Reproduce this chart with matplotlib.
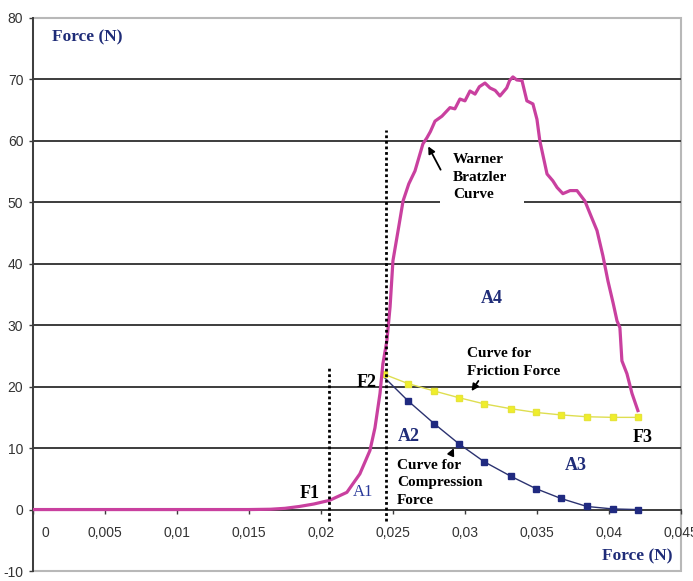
import numpy as np
import matplotlib
matplotlib.use("Agg")
import matplotlib.pyplot as plt
from matplotlib.patches import Rectangle
from matplotlib.transforms import ScaledTranslation

# Warner Bratzler shear curve
wb_x = [0, 0.005, 0.01, 0.015, 0.0165, 0.0175, 0.0185, 0.0195, 0.0206, 0.0218,
        0.0227, 0.0234, 0.02375, 0.0241, 0.0243, 0.02458, 0.0248, 0.025, 0.0254,
        0.0257, 0.0261, 0.02653, 0.02708, 0.02736, 0.0276, 0.02792, 0.0284,
        0.02896, 0.0293, 0.02965, 0.0300, 0.03035, 0.0307, 0.0310, 0.03139,
        0.03174, 0.0321, 0.03243, 0.0329, 0.0331, 0.03333, 0.0336, 0.03396,
        0.0343, 0.03472, 0.0350, 0.0352, 0.0357, 0.0361, 0.0364, 0.0368, 0.0373,
        0.03778, 0.03833, 0.0388, 0.03917, 0.03958, 0.03993, 0.0403, 0.04056,
        0.04076, 0.0409, 0.04125, 0.0416, 0.04201]
wb_y = [0, 0, 0, 0, 0.05, 0.2, 0.5, 0.9, 1.5, 2.8,
        5.8, 9.6, 13.3, 18.9, 23.7, 27.5, 33, 40.5, 46.0,
        50.2, 53.0, 55.1, 59.5, 60.5, 61.5, 63.2, 64.0,
        65.4, 65.2, 66.8, 66.5, 68.1, 67.6, 68.8, 69.4,
        68.6, 68.2, 67.3, 68.6, 69.8, 70.4, 69.9, 69.8,
        66.5, 66.0, 63.5, 60.0, 54.6, 53.5, 52.4, 51.4, 51.9,
        51.9, 50.2, 47.5, 45.4, 41.3, 37.2, 33.5, 30.7,
        29.6, 24.2, 22.1, 18.9, 16.1]

# friction and compression force curves
fc_x = [0.0244, 0.02604, 0.02785, 0.02958, 0.03132, 0.0332, 0.03493, 0.03667,
        0.03847, 0.04028, 0.04201]
friction_y = [22.0, 20.5, 19.3, 18.2, 17.2, 16.4, 15.8, 15.4, 15.1, 15.0, 15.0]
compression_y = [21.5, 17.7, 14.0, 10.7, 7.8, 5.4, 3.4, 1.8, 0.5, 0.1, 0.0]

# limits of the areas
f1_x, f1_top = 0.02056, 23.4
f2_x, f2_top = 0.0245, 61.8

x_ticks = [0, 0.005, 0.01, 0.015, 0.02, 0.025, 0.03, 0.035, 0.04, 0.045]
x_labels = ["0", "0,005", "0,01", "0,015", "0,02", "0,025", "0,03", "0,035", "0,04", "0,045"]
y_ticks = [-10, 0, 10, 20, 30, 40, 50, 60, 70, 80]

navy = "#1f2c78"
magenta = "#c9409f"
serif = ["Liberation Serif", "DejaVu Serif"]
narrow = ["Liberation Sans Narrow", "Liberation Sans", "DejaVu Sans"]

fig = plt.figure(figsize=(6.93, 5.81), dpi=100)
ax = fig.add_axes([0.0476, 0.0172, 0.935, 0.952])
ax.set_xlim(0, 0.045)
ax.set_ylim(-10, 80)

# horizontal gridlines
for y in range(10, 80, 10):
    ax.axhline(y, color="#3c3c3c", lw=1.4, zorder=1)

for s in ["top", "right"]:
    ax.spines[s].set_visible(False)
ax.spines["bottom"].set_position(("data", 0))
ax.spines["bottom"].set_color("#3c3c3c")
ax.spines["bottom"].set_linewidth(1.4)
ax.spines["left"].set_color("#3c3c3c")
ax.spines["left"].set_linewidth(1.4)
ax.add_patch(Rectangle((0, 0), 1, 1, transform=ax.transAxes, fill=False,
                       ec="#b8b8b8", lw=1.5, zorder=0, clip_on=False))

ax.set_xticks(x_ticks)
ax.set_xticklabels(x_labels, family=narrow, fontsize=10, color="#333333")
ax.set_yticks(y_ticks)
ax.set_yticklabels([str(v) for v in y_ticks], family=narrow, fontsize=10, color="#333333")
ax.tick_params(axis="x", direction="out", length=3, width=1, color="#3c3c3c", pad=9)
ax.tick_params(axis="y", direction="out", length=3, width=1, color="#3c3c3c", pad=4)
first = ax.get_xticklabels()[0]
first.set_transform(first.get_transform() + ScaledTranslation(9 / 72, 0, fig.dpi_scale_trans))

# curves
ax.plot(wb_x, wb_y, color=magenta, lw=2.3, zorder=4, solid_joinstyle="round")
ax.plot(fc_x, compression_y, color="#2b3270", lw=1.0, marker="s", ms=5,
        mfc="#202a80", mec="#202a80", markevery=list(range(1, len(fc_x))), zorder=3)
ax.plot(fc_x, friction_y, color="#dede50", lw=1.0, marker="s", ms=5,
        mfc="#f0ee2a", mec="#e6e43a", zorder=3)

# dotted limits
ax.plot([f1_x, f1_x], [-1.8, f1_top], color="black", lw=2, ls=(0, (1, 1)), zorder=5)
ax.plot([f2_x, f2_x], [-1.8, f2_top], color="black", lw=2, ls=(0, (1, 1)), zorder=5)

bold = dict(family=serif, fontweight="bold")
ax.text(0.00375, 76.9, "Force (N)", color=navy, fontsize=12.5, ha="center", va="center", **bold)
ax.text(0.04444, -7.6, "Force (N)", color=navy, fontsize=12.5, ha="right", va="center", **bold)

ax.text(0.01924, 2.6, "F1", color="black", fontsize=13, ha="center", va="center", **bold)
ax.text(0.0232, 20.7, "F2", color="black", fontsize=13, ha="center", va="center", **bold)
ax.text(0.04236, 11.7, "F3", color="black", fontsize=13, ha="center", va="center", **bold)

ax.text(0.02292, 2.8, "A1", color="#2a3a9a", fontsize=12, ha="center", va="center", family=serif)
ax.text(0.02611, 11.9, "A2", color=navy, fontsize=13, ha="center", va="center", **bold)
ax.text(0.03771, 7.2, "A3", color=navy, fontsize=13, ha="center", va="center", **bold)
ax.text(0.03188, 34.3, "A4", color=navy, fontsize=13, ha="center", va="center", **bold)

ax.text(0.02528, 4.4, "Curve for\nCompression\nForce", color="black", fontsize=11,
        ha="left", va="center", linespacing=1.45, zorder=6, **bold)
ax.text(0.03014, 23.9, "Curve for\nFriction Force", color="black", fontsize=11,
        ha="left", va="center", linespacing=1.45, zorder=6, **bold)

# white label box that breaks the 50 gridline
ax.add_patch(Rectangle((0.02826, 49.3), 0.00584, 9.9, fc="white", ec="none", zorder=2))
ax.text(0.02917, 54.1, "Warner\nBratzler\nCurve", color="black", fontsize=11,
        ha="left", va="center", linespacing=1.45, zorder=6, **bold)

arrow = dict(arrowstyle="-|>", color="black", lw=1.3, mutation_scale=10)
ax.annotate("", xy=(0.02736, 59.5), xytext=(0.02840, 54.9), arrowprops=arrow, zorder=6)
ax.annotate("", xy=(0.03035, 18.9), xytext=(0.03104, 21.3), arrowprops=arrow, zorder=6)
ax.annotate("", xy=(0.02931, 10.4), xytext=(0.02896, 8.6), arrowprops=arrow, zorder=6)

fig.savefig("out.png", dpi=100)
